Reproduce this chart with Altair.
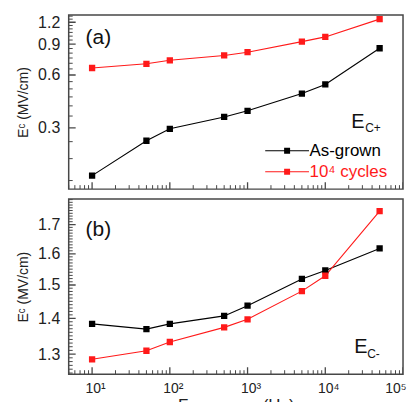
import altair as alt
import pandas as pd

# ---- data ----
freq = [10, 50, 100, 500, 1000, 5000, 10000, 50000]
ecp_asgrown = [0.160, 0.253, 0.296, 0.346, 0.375, 0.470, 0.530, 0.853]
ecp_cycled = [0.658, 0.695, 0.728, 0.776, 0.810, 0.930, 0.990, 1.250]
ecm_asgrown = [1.384, 1.369, 1.384, 1.407, 1.437, 1.519, 1.546, 1.618]
ecm_cycled = [1.286, 1.309, 1.333, 1.374, 1.397, 1.481, 1.529, 1.748]
series_names = ["As-grown", "10⁴ cycles"]
series_colors = ["#000000", "#ff1a1a"]

x_major = [10, 100, 1000, 10000, 100000]
x_minor = [m * 10 ** e for e in range(0, 5) for m in range(2, 10) if 5 <= m * 10 ** e <= 100000]
top_major = [0.3, 0.6, 0.9, 1.2]
top_minor = [round(0.15 + 0.05 * i, 2) for i in range(24)]
top_minor = [v for v in top_minor if v not in top_major]
bot_major = [1.3, 1.4, 1.5, 1.6, 1.7]
bot_minor = [round(1.25 + 0.01 * i, 2) for i in range(55)]
bot_minor = [v for v in bot_minor if v not in bot_major]
x_label_map = {10: "10¹", 100: "10²", 1000: "10³", 10000: "10⁴", 100000: "10⁵"}

FONT = "Liberation Sans"
W, H1, H2 = 336, 175, 176
FRAME = "#474747"

xscale = alt.Scale(type="log", domain=[5, 100000], nice=False)
ytop = alt.Scale(type="log", domain=[0.134, 1.32], nice=False)
ybot = alt.Scale(type="log", domain=[1.247, 1.792], nice=False)
cscale = alt.Scale(domain=series_names, range=series_colors)

top_df = pd.DataFrame({
    "freq": freq * 2,
    "val": ecp_asgrown + ecp_cycled,
    "series": [series_names[0]] * len(freq) + [series_names[1]] * len(freq),
})
bot_df = pd.DataFrame({
    "freq": freq * 2,
    "val": ecm_asgrown + ecm_cycled,
    "series": [series_names[0]] * len(freq) + [series_names[1]] * len(freq),
})

ytitle = "Eᶜ (MV/cm)"


def yaxis(values):
    return alt.Axis(values=values, format=".1f", ticks=False, domain=False, grid=False,
                    labelFont=FONT, labelFontSize=16, labelColor="#222", labelPadding=9,
                    title=ytitle, titleFont=FONT, titleFontSize=14, titleFontWeight="normal",
                    titleColor="#222", titlePadding=7)


label_expr = " : ".join(f"datum.value == {k} ? '{v}'" for k, v in x_label_map.items()) + " : ''"
xaxis_bottom = alt.Axis(values=x_major, ticks=False, domain=False, grid=False,
                        labelExpr=label_expr, labelFont=FONT, labelFontSize=14, labelOffset=3,
                        labelColor="#222", labelPadding=7, labelOverlap=False,
                        title="Frequency (Hz)", titleFont=FONT, titleFontSize=17,
                        titleFontWeight="normal", titleColor="#222", titlePadding=2)

symbol_path = "M-4.4,-0.11H4.4V0.11H-4.4Z M-0.6,-0.6H0.6V0.6H-0.6Z"
legend = alt.Legend(orient="none", legendX=211, legendY=128, title=None, padding=0,
                    symbolType=symbol_path, symbolSize=100, symbolStrokeWidth=0,
                    symbolOpacity=1,
                    labelFont=FONT, labelFontSize=17, labelOffset=14, rowPadding=3,
                    labelColor=alt.ExprRef("datum.label == 'As-grown' ? '#000000' : '#ff1a1a'"))


def panel(df, yscale, ymaj, ymin, H, xaxis, show_legend, tag, tag_y, sub, e_x, e_y, s_x, s_y):
    leg = legend if show_legend else None
    ya = yaxis(ymaj)
    base = alt.Chart(df)
    lines = base.mark_line(strokeWidth=1.1, clip=True).encode(
        x=alt.X("freq:Q", scale=xscale, axis=xaxis),
        y=alt.Y("val:Q", scale=yscale, axis=ya),
        color=alt.Color("series:N", scale=cscale, legend=leg),
    )
    pts = base.mark_point(shape="square", filled=True, size=40, opacity=1, clip=True).encode(
        x=alt.X("freq:Q", scale=xscale, axis=xaxis),
        y=alt.Y("val:Q", scale=yscale, axis=ya),
        color=alt.Color("series:N", scale=cscale, legend=leg),
    )
    ymaj_t = alt.Chart(pd.DataFrame({"val": ymaj})).mark_rule(color=FRAME, strokeWidth=1.3, clip=True).encode(
        y=alt.Y("val:Q", scale=yscale, axis=ya), x=alt.value(0), x2=alt.value(7))
    ymin_t = alt.Chart(pd.DataFrame({"val": ymin})).mark_rule(color=FRAME, strokeWidth=1, clip=True).encode(
        y=alt.Y("val:Q", scale=yscale, axis=ya), x=alt.value(0), x2=alt.value(4))
    xmaj_t = alt.Chart(pd.DataFrame({"freq": x_major})).mark_rule(color=FRAME, strokeWidth=1.3, clip=True).encode(
        x=alt.X("freq:Q", scale=xscale, axis=xaxis), y=alt.value(H), y2=alt.value(H - 7))
    xmin_t = alt.Chart(pd.DataFrame({"freq": x_minor})).mark_rule(color=FRAME, strokeWidth=1, clip=True).encode(
        x=alt.X("freq:Q", scale=xscale, axis=xaxis), y=alt.value(H), y2=alt.value(H - 4))
    tag_t = alt.Chart(pd.DataFrame({"t": [tag]})).mark_text(
        font=FONT, fontSize=21, align="left", baseline="middle", color="#111").encode(
        text="t:N", x=alt.value(17), y=alt.value(tag_y))
    e_t = alt.Chart(pd.DataFrame({"t": ["E"]})).mark_text(
        font=FONT, fontSize=20, align="left", baseline="alphabetic", color="#111").encode(
        text="t:N", x=alt.value(e_x), y=alt.value(e_y))
    s_t = alt.Chart(pd.DataFrame({"t": [sub]})).mark_text(
        font=FONT, fontSize=12, align="left", baseline="alphabetic", color="#111").encode(
        text="t:N", x=alt.value(s_x), y=alt.value(s_y))
    return alt.layer(lines, pts, ymaj_t, ymin_t, xmaj_t, xmin_t, tag_t, e_t, s_t).properties(
        width=W, height=H)


top = panel(top_df, ytop, top_major, top_minor, H1, None, True, "(a)", 23, "C+", 284, 114, 298, 118)
bot = panel(bot_df, ybot, bot_major, bot_minor, H2, xaxis_bottom, False, "(b)", 31, "C-", 287, 155, 300, 160)

chart = alt.vconcat(top, bot, spacing=8).resolve_scale(
    y="independent", color="independent").resolve_legend(color="independent").properties(
    padding={"left": 8, "top": 4, "right": 0, "bottom": 5}).configure_view(
    stroke=FRAME, strokeWidth=1.5)

chart.save("out.html", embed_options={"renderer": "svg", "actions": False})
